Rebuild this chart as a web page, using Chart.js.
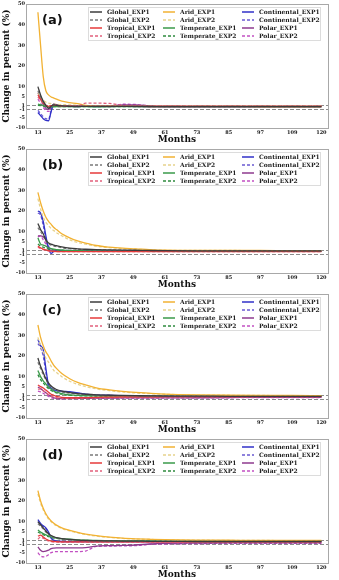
<!DOCTYPE html>
<html>
<head>
<meta charset="utf-8">
<script src="https://cdn.jsdelivr.net/npm/chart.js@4.4.1/dist/chart.umd.min.js"></script>
<style>
  body { margin: 0; background: #fff; }
  canvas { display: block; }
</style>
</head>
<body>
<canvas id="cA" width="339" height="145"></canvas>
<canvas id="cB" width="339" height="145"></canvas>
<canvas id="cC" width="339" height="145"></canvas>
<canvas id="cD" width="339" height="145"></canvas>
<script>
const months = [13, 14, 15, 16, 17, 18, 19, 20, 22, 25, 28, 31, 35, 40, 45, 50, 55, 61, 73, 85, 97, 109, 120];
const xTicks = [13, 25, 37, 49, 61, 73, 85, 97, 109, 120];
const yTicks = [-10, -5, -1, 1, 5, 10, 20, 30, 40, 50];

const seriesNames = ['Global_EXP1', 'Global_EXP2', 'Tropical_EXP1', 'Tropical_EXP2',
  'Arid_EXP1', 'Arid_EXP2', 'Temperate_EXP1', 'Temperate_EXP2',
  'Continental_EXP1', 'Continental_EXP2', 'Polar_EXP1', 'Polar_EXP2'];
const seriesColors = ['#3c3c3c', '#7a7a7a', '#e63a3a', '#e2607c',
  '#f2b233', '#e6d28c', '#3a9a4a', '#2e8b3e',
  '#3030c8', '#6a5ad2', '#8e3a8e', '#c250c2'];
const seriesDash = [[], [3, 2], [], [3, 2], [], [3, 2], [], [3, 2], [], [3, 2], [], [3, 2]];

// (a)
const globalExp1A = [10, 6, 3, 1, -0.5, 0.5, 1.2, 1, 0.7, 0.5, 0.4, 0.5, 0.5, 0.4, 0.5, 0.4, 0.4, 0.3, 0.3, 0.3, 0.3, 0.3, 0.3];
const globalExp2A = [8, 5, 2.5, 0.8, -0.3, 0.8, 1.3, 1, 0.8, 0.6, 0.5, 0.6, 0.6, 0.5, 0.6, 0.5, 0.5, 0.4, 0.4, 0.4, 0.4, 0.4, 0.4];
const tropicalExp1A = [6, 4, 2, 1, 0.5, 0.8, 1, 0.9, 0.7, 0.6, 0.5, 0.5, 0.5, 0.5, 0.5, 0.5, 0.4, 0.4, 0.4, 0.4, 0.4, 0.4, 0.4];
const tropicalExp2A = [5, 3.5, 2, 1, 0.5, 0.7, 1, 0.9, 0.7, 0.6, 0.6, 2, 2, 1.9, 0.9, 0.7, 0.6, 0.6, 0.5, 0.5, 0.5, 0.5, 0.5];
const aridExp1A = [46, 30, 15, 8, 6, 5, 4.5, 4, 3, 2.3, 1.8, 0.9, 0.6, 0.6, 0.6, 0.5, 0.5, 0.5, 0.5, 0.5, 0.4, 0.4, 0.4];
const aridExp2A = [7, 5, 3.5, 2.5, 2, 1.8, 1.6, 1.5, 1.3, 1.2, 1, 0.8, 0.7, 0.7, 0.7, 0.6, 0.6, 0.6, 0.6, 0.6, 0.6, 0.6, 0.6];
const temperateExp1A = [1.5, 1.2, 1, 0.5, 0.3, 0.2, 0.3, 0.3, 0.3, 0.3, 0.3, 0.3, 0.2, 0.3, 0.3, 0.3, 0.3, 0.3, 0.3, 0.3, 0.3, 0.3, 0.3];
const temperateExp2A = [1, 0.8, 0.6, 0.4, 0.2, 0.2, 0.3, 0.3, 0.3, 0.3, 0.3, 0.3, 0.3, 0.3, 0.3, 0.3, 0.3, 0.3, 0.3, 0.3, 0.3, 0.3, 0.3];
const continentalExp1A = [-2.5, -4, -5.5, -6.3, -6.5, -2, 1.5, 1, 0.6, 0.5, 0.4, 0.5, 0.4, 0.5, 0.6, 0.5, 0.4, 0.3, 0.3, 0.3, 0.3, 0.3, 0.3];
const continentalExp2A = [-1.5, -3, -4.5, -5.5, -5.8, -1.5, 1.2, 0.9, 0.6, 0.5, 0.5, 0.5, 0.5, 0.6, 0.6, 0.5, 0.5, 0.4, 0.4, 0.4, 0.4, 0.4, 0.4];
const polarExp1A = [7, 4, 1.5, -0.5, -1, 0, 1.5, 1.2, 0.8, 0.6, 0.5, 0.6, 0.6, 0.6, 1.2, 1.2, 0.7, 0.5, 0.5, 0.5, 0.5, 0.5, 0.5];
const polarExp2A = [4, 2, 0, -1.5, -2, -0.5, 1.5, 1.2, 0.9, 0.7, 0.6, 0.7, 0.7, 0.7, 1.5, 1.4, 0.8, 0.7, 0.7, 0.7, 0.7, 0.7, 0.7];

// (b)
const globalExp1B = [14, 11, 9, 6, 4.5, 4, 3.5, 3.2, 2.6, 2, 1.7, 1.5, 1.3, 1.2, 1.1, 1, 0.9, 0.8, 0.7, 0.7, 0.7, 0.7, 0.7];
const globalExp2B = [12, 10, 8, 5.5, 4, 3.5, 3, 2.8, 2.2, 1.8, 1.5, 1.3, 1.2, 1.1, 1, 0.9, 0.8, 0.8, 0.7, 0.7, 0.7, 0.7, 0.7];
const tropicalExp1B = [3, 2.2, 1.6, 1.2, 0.8, 0.6, 0.5, 0.4, 0.3, 0.3, 0.3, 0.3, 0.3, 0.3, 0.3, 0.3, 0.3, 0.3, 0.3, 0.3, 0.3, 0.3, 0.3];
const tropicalExp2B = [2.5, 1.8, 1.3, 1, 0.7, 0.5, 0.4, 0.4, 0.3, 0.3, 0.3, 0.3, 0.3, 0.3, 0.3, 0.3, 0.3, 0.3, 0.3, 0.3, 0.3, 0.3, 0.3];
const aridExp1B = [29, 24, 20, 17, 15, 13.5, 12, 11, 9, 7, 5.5, 4.5, 3.3, 2.5, 2, 1.7, 1.3, 1, 0.9, 0.9, 0.9, 0.8, 0.8];
const aridExp2B = [26, 21, 17, 14.5, 13, 11.5, 10.5, 9.5, 8, 6, 4.8, 4, 3, 2.3, 1.8, 1.5, 1.2, 1, 0.9, 0.9, 0.8, 0.8, 0.8];
const temperateExp1B = [7, 4, 3.5, 3, 2.2, 1.8, 1.5, 1.3, 1.1, 0.9, 0.8, 0.7, 0.7, 0.6, 0.6, 0.6, 0.6, 0.6, 0.6, 0.6, 0.6, 0.6, 0.6];
const temperateExp2B = [4, 3, 2.5, 2, 1.6, 1.4, 1.2, 1.1, 1, 0.8, 0.7, 0.7, 0.6, 0.6, 0.6, 0.6, 0.6, 0.6, 0.6, 0.6, 0.6, 0.6, 0.6];
const continentalExp1B = [20, 19, 15, 8, 2, -0.5, 0.5, 0.8, 0.8, 0.8, 0.8, 0.8, 0.7, 0.7, 0.7, 0.6, 0.6, 0.6, 0.6, 0.6, 0.6, 0.6, 0.6];
const continentalExp2B = [19, 18, 13, 6.5, 3, 1, 0.8, 0.9, 0.9, 0.9, 0.8, 0.8, 0.7, 0.7, 0.7, 0.7, 0.6, 0.6, 0.6, 0.6, 0.6, 0.6, 0.6];
const polarExp1B = [8, 8, 7.5, 6, 2, 1, 0.8, 0.7, 0.6, 0.6, 0.6, 0.6, 0.6, 0.6, 0.6, 0.6, 0.6, 0.6, 0.6, 0.6, 0.6, 0.6, 0.6];
const polarExp2B = [7.5, 8, 6, 4, 1.5, 0.8, 0.7, 0.6, 0.6, 0.6, 0.6, 0.6, 0.6, 0.6, 0.6, 0.6, 0.6, 0.6, 0.6, 0.6, 0.6, 0.6, 0.6];

// (c)
const globalExp1C = [19, 15, 12, 9, 7, 5.5, 4.5, 3.8, 3, 2.3, 1.8, 1.5, 1.2, 1, 0.9, 0.8, 0.7, 0.6, 0.6, 0.5, 0.5, 0.5, 0.5];
const globalExp2C = [17, 14, 11, 8.5, 6.5, 5, 4, 3.4, 2.6, 2, 1.6, 1.3, 1.1, 0.9, 0.8, 0.7, 0.6, 0.6, 0.5, 0.5, 0.5, 0.5, 0.5];
const tropicalExp1C = [6, 5.2, 4.5, 3.5, 2.5, 1.5, 1, 0.5, 0, -0.2, -0.2, -0.1, 0, 0.1, 0.2, 0.2, 0.2, 0.3, 0.3, 0.3, 0.3, 0.3, 0.3];
const tropicalExp2C = [4, 4, 3.2, 2.2, 1.3, 0.6, 0.2, -0.1, -0.4, -0.5, -0.4, -0.3, -0.2, -0.1, 0, 0.1, 0.1, 0.2, 0.2, 0.2, 0.2, 0.2, 0.2];
const aridExp1C = [35, 29, 25, 22, 20, 17.5, 15.5, 14, 11.5, 9, 7.2, 6, 4.6, 3.6, 2.9, 2.4, 2, 1.6, 1.2, 1, 0.9, 0.9, 0.8];
const aridExp2C = [29, 25, 22, 19, 17, 15, 13, 12, 10, 7.8, 6.3, 5.2, 4.1, 3.2, 2.6, 2.1, 1.8, 1.5, 1.1, 1, 0.9, 0.8, 0.8];
const temperateExp1C = [13, 10, 8, 6.5, 5, 4, 3, 2.5, 1.8, 1.2, 0.9, 0.8, 0.7, 0.6, 0.5, 0.5, 0.5, 0.5, 0.5, 0.5, 0.5, 0.5, 0.5];
const temperateExp2C = [11, 8.5, 7, 5.5, 4.2, 3.3, 2.6, 2.1, 1.5, 1, 0.8, 0.7, 0.6, 0.5, 0.5, 0.5, 0.5, 0.5, 0.5, 0.5, 0.5, 0.5, 0.5];
const continentalExp1C = [28, 25, 23, 14, 6, 4.5, 3.8, 3.3, 3, 2.7, 2.2, 1.6, 1.2, 1, 0.8, 0.7, 0.6, 0.5, 0.5, 0.5, 0.4, 0.4, 0.4];
const continentalExp2C = [26, 24, 20, 12, 5, 4, 3.4, 3, 2.7, 2.4, 2, 1.5, 1.1, 0.9, 0.7, 0.6, 0.5, 0.5, 0.4, 0.4, 0.4, 0.4, 0.4];
const polarExp1C = [5, 4.2, 3.2, 2.2, 1.2, 0.4, -0.2, -0.5, -0.6, -0.5, -0.5, -0.5, -0.4, -0.4, -0.3, -0.3, -0.3, -0.3, -0.2, -0.1, 0, 0, 0];
const polarExp2C = [3, 2.6, 2, 1.2, 0.4, -0.2, -0.5, -0.6, -0.7, -0.6, -0.6, -0.5, -0.5, -0.4, -0.4, -0.4, -0.4, -0.3, -0.3, -0.2, -0.1, -0.1, -0.1];

// (d)
const globalExp1D = [10, 8.5, 7, 5.5, 4.2, 3.3, 2.7, 2.3, 1.8, 1.4, 1.1, 0.9, 0.8, 0.7, 0.6, 0.6, 0.5, 0.5, 0.4, 0.4, 0.4, 0.4, 0.4];
const globalExp2D = [9, 7.8, 6.5, 5, 3.9, 3, 2.5, 2.1, 1.6, 1.3, 1, 0.8, 0.7, 0.6, 0.6, 0.5, 0.5, 0.5, 0.4, 0.4, 0.4, 0.4, 0.4];
const tropicalExp1D = [3, 3.5, 2.6, 1.6, 1, 0.6, 0.4, 0.3, 0.2, 0.2, 0.2, 0.2, 0.2, 0.2, 0.2, 0.2, 0.2, 0.2, 0.2, 0.2, 0.2, 0.2, 0.2];
const tropicalExp2D = [1.5, 2.5, 2, 1.2, 0.7, 0.4, 0.2, 0.1, 0.1, 0.1, 0.1, 0.1, 0.1, 0.1, 0.1, 0.1, 0.1, 0.1, 0.1, 0.1, 0.1, 0.1, 0.1];
const aridExp1D = [25, 20, 16.5, 13.8, 11.8, 10.3, 9.2, 8.3, 7, 5.8, 4.8, 4, 3.2, 2.5, 2, 1.7, 1.5, 1.3, 1.1, 1, 0.9, 0.9, 0.9];
const aridExp2D = [23.5, 19, 15.8, 13.2, 11.3, 9.9, 8.8, 8, 6.7, 5.5, 4.6, 3.8, 3, 2.4, 1.9, 1.6, 1.4, 1.2, 1.05, 0.95, 0.9, 0.85, 0.85];
const temperateExp1D = [6, 5, 4.2, 3.6, 3.1, 2.7, 2.4, 2.1, 1.8, 1.5, 1.2, 1, 0.9, 0.8, 0.7, 0.7, 0.7, 0.6, 0.6, 0.6, 0.6, 0.6, 0.6];
const temperateExp2D = [5, 4.3, 3.7, 3.2, 2.8, 2.4, 2.1, 1.9, 1.6, 1.3, 1.1, 0.9, 0.8, 0.7, 0.7, 0.6, 0.6, 0.6, 0.6, 0.6, 0.6, 0.6, 0.6];
const continentalExp1D = [11, 9.2, 8, 7, 5, 2.2, 1, 0.6, 0.4, 0.3, 0.3, 0.3, 0.3, 0.3, 0.3, 0.3, 0.3, 0.3, 0.3, 0.3, 0.3, 0.3, 0.3];
const continentalExp2D = [10, 8.6, 7.6, 6.5, 4.5, 2, 1, 0.6, 0.4, 0.4, 0.4, 0.4, 0.4, 0.4, 0.4, 0.4, 0.4, 0.4, 0.4, 0.4, 0.4, 0.4, 0.4];
const polarExp1D = [-2.2, -3.8, -4.5, -4.3, -3.8, -3, -2.8, -2.7, -2.7, -2.7, -2.7, -2.6, -1.8, -1.6, -1.5, -1.3, -0.8, -0.5, -0.4, -0.3, -0.3, -0.3, -0.3];
const polarExp2D = [-5, -6.5, -7, -6.8, -6, -5, -4.6, -4.5, -4.5, -4.5, -4.5, -4.2, -2, -1.8, -1.7, -1.6, -1, -0.8, -0.6, -0.5, -0.5, -0.5, -0.5];

const panels = [
  { id: 'cA', tag: '(a)', series: [globalExp1A, globalExp2A, tropicalExp1A, tropicalExp2A, aridExp1A, aridExp2A, temperateExp1A, temperateExp2A, continentalExp1A, continentalExp2A, polarExp1A, polarExp2A] },
  { id: 'cB', tag: '(b)', series: [globalExp1B, globalExp2B, tropicalExp1B, tropicalExp2B, aridExp1B, aridExp2B, temperateExp1B, temperateExp2B, continentalExp1B, continentalExp2B, polarExp1B, polarExp2B] },
  { id: 'cC', tag: '(c)', series: [globalExp1C, globalExp2C, tropicalExp1C, tropicalExp2C, aridExp1C, aridExp2C, temperateExp1C, temperateExp2C, continentalExp1C, continentalExp2C, polarExp1C, polarExp2C] },
  { id: 'cD', tag: '(d)', series: [globalExp1D, globalExp2D, tropicalExp1D, tropicalExp2D, aridExp1D, aridExp2D, temperateExp1D, temperateExp2D, continentalExp1D, continentalExp2D, polarExp1D, polarExp2D] }
];

Chart.defaults.font.family = '"DejaVu Serif", serif';
Chart.defaults.color = '#111';

// legend columns, dashed ±1 lines, frame and panel tag
const extras = {
  id: 'extras',
  beforeDatasetsDraw(chart) {
    const { ctx, chartArea: a, scales: { y } } = chart;
    ctx.save();
    ctx.strokeStyle = '#8c8c8c';
    ctx.lineWidth = 1;
    ctx.setLineDash([4, 2]);
    [1, -1].forEach(v => {
      const py = Math.round(y.getPixelForValue(v)) + 0.5;
      ctx.beginPath();
      ctx.moveTo(a.left, py);
      ctx.lineTo(a.right, py);
      ctx.stroke();
    });
    ctx.restore();
  },
  afterDatasetsDraw(chart, args, opts) {
    const { ctx, chartArea: a } = chart;
    ctx.save();
    ctx.strokeStyle = '#a8a8a8';
    ctx.lineWidth = 1;
    ctx.strokeRect(Math.round(a.left) + 0.5, Math.round(a.top) + 0.5, Math.round(a.right - a.left), Math.round(a.bottom - a.top));

    const bx = a.left + 62, by = a.top + 3, bw = 232, bh = 33;
    ctx.fillStyle = 'rgba(255,255,255,0.9)';
    ctx.fillRect(bx, by, bw, bh);
    ctx.strokeStyle = '#dcdcdc';
    ctx.strokeRect(Math.round(bx) + 0.5, Math.round(by) + 0.5, bw, bh);
    const cols = [2, 75, 154];
    ctx.font = 'bold 6px "DejaVu Serif"';
    ctx.textBaseline = 'middle';
    seriesNames.forEach((name, i) => {
      const lx = bx + cols[Math.floor(i / 4)];
      const ly = Math.round(by + 4.7 + (i % 4) * 8);
      ctx.strokeStyle = seriesColors[i];
      ctx.lineWidth = 1.5;
      ctx.setLineDash(seriesDash[i]);
      ctx.beginPath();
      ctx.moveTo(lx, ly);
      ctx.lineTo(lx + 12, ly);
      ctx.stroke();
      ctx.setLineDash([]);
      ctx.fillStyle = '#222';
      ctx.fillText(name, lx + 17, ly);
    });

    ctx.font = 'bold 13px "DejaVu Sans"';
    ctx.fillStyle = '#111';
    ctx.fillText(opts.tag, a.left + 16, a.top + 17);
    ctx.restore();
  }
};

panels.forEach(p => {
  const datasets = p.series.map((vals, i) => ({
    label: seriesNames[i],
    data: vals.map((v, k) => ({ x: months[k], y: v })),
    borderColor: seriesColors[i],
    borderDash: seriesDash[i],
    borderWidth: 1.3,
    pointRadius: 0,
    cubicInterpolationMode: 'monotone',
    fill: false
  }));

  new Chart(document.getElementById(p.id), {
    type: 'line',
    data: { datasets },
    plugins: [extras],
    options: {
      responsive: false,
      animation: false,
      layout: { padding: { left: 0, right: 11, top: 4, bottom: 0 } },
      plugins: {
        legend: { display: false },
        tooltip: { enabled: false },
        extras: { tag: p.tag }
      },
      scales: {
        x: {
          type: 'linear',
          min: 8.5,
          max: 122.5,
          afterBuildTicks: s => { s.ticks = xTicks.map(v => ({ value: v })); },
          afterFit: s => { s.height = 17; },
          grid: { display: false, drawTicks: false },
          border: { display: false },
          ticks: { autoSkip: false, maxRotation: 0, padding: 2, font: { size: 5, weight: 'bold' } },
          title: { display: true, text: 'Months', font: { size: 9, weight: 'bold' }, padding: { top: 0, bottom: 0 } }
        },
        y: {
          min: -10,
          max: 50,
          afterBuildTicks: s => { s.ticks = yTicks.map(v => ({ value: v })); },
          afterFit: s => { s.width = 26; },
          grid: { display: false, drawTicks: false },
          border: { display: false },
          ticks: { autoSkip: false, padding: 1, font: { size: 5, weight: 'bold' } },
          title: { display: true, text: 'Change in percent (%)', font: { size: 9, weight: 'bold' }, padding: { top: 1.5, bottom: 0 } }
        }
      }
    }
  });
});
</script>
</body>
</html>
